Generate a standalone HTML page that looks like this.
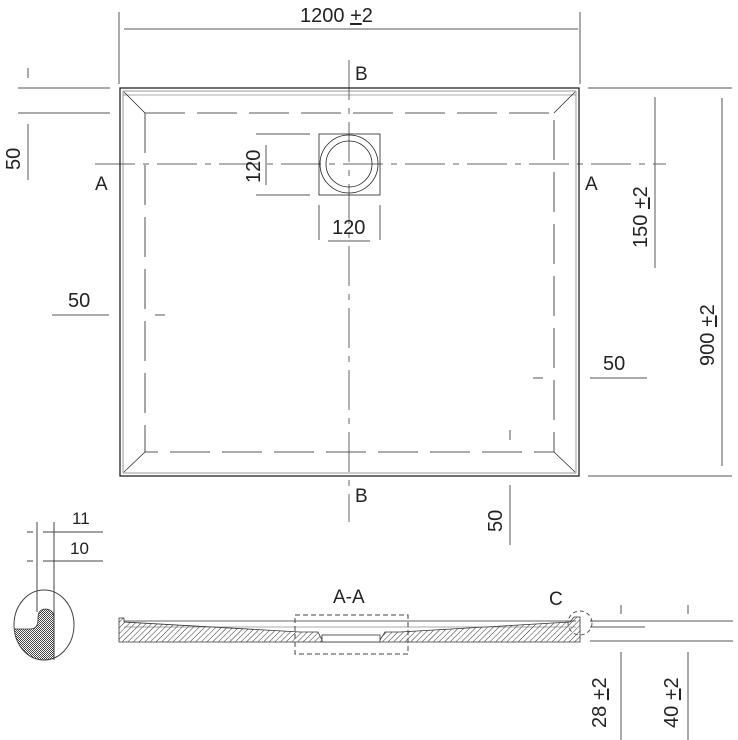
<!DOCTYPE html>
<html><head><style>
html,body{margin:0;padding:0;background:#fff;}
svg{display:block;}
text{font-family:"Liberation Sans",sans-serif;fill:#222;}
</style></head><body>
<svg width="738" height="740" viewBox="0 0 738 740" xmlns="http://www.w3.org/2000/svg">
<defs>
<pattern id="h" width="4" height="4" patternUnits="userSpaceOnUse" patternTransform="rotate(45)">
<line x1="0" y1="0" x2="0" y2="4" stroke="#333" stroke-width="1"/>
</pattern>
<pattern id="g" width="2" height="2" patternUnits="userSpaceOnUse">
<rect width="1" height="1" fill="#444"/><rect x="1" y="1" width="1" height="1" fill="#444"/>
</pattern>
<clipPath id="ec"><ellipse cx="44" cy="625" rx="30" ry="35"/></clipPath>
</defs>
<g stroke="#555" stroke-width="1" fill="none">
<line x1="119" y1="12" x2="119" y2="84"/>
<line x1="580" y1="12" x2="580" y2="84"/>
<line x1="124" y1="29" x2="578" y2="29"/>
<line x1="18" y1="88" x2="110" y2="88"/>
<line x1="18" y1="113" x2="110" y2="113"/>
<line x1="28" y1="68" x2="28" y2="78"/>
<line x1="28" y1="124" x2="28" y2="180"/>
<line x1="52" y1="315" x2="109" y2="315"/>
<line x1="155" y1="315" x2="165" y2="315"/>
<line x1="588" y1="88" x2="732" y2="88"/>
<line x1="588" y1="476" x2="732" y2="476"/>
<line x1="722" y1="98" x2="722" y2="466"/>
<line x1="655" y1="97" x2="655" y2="268"/>
<line x1="590" y1="378" x2="647" y2="378"/>
<line x1="533" y1="378" x2="543" y2="378"/>
<line x1="510" y1="485" x2="510" y2="545"/>
<line x1="510" y1="430" x2="510" y2="440"/>
<line x1="256" y1="134" x2="310" y2="134"/>
<line x1="256" y1="195" x2="310" y2="195"/>
<line x1="266" y1="145" x2="266" y2="185"/>
<line x1="319" y1="205" x2="319" y2="240"/>
<line x1="380" y1="205" x2="380" y2="240"/>
<line x1="328" y1="241" x2="370" y2="241"/>
</g>
<g stroke="#666" stroke-width="1" fill="none" stroke-dasharray="40,8,6,8">
<line x1="349" y1="60" x2="349" y2="522"/>
<line x1="95" y1="164" x2="666" y2="164"/>
</g>
<g stroke="#222" fill="none">
<rect x="120" y="88" width="459" height="388" stroke-width="1.3"/>
<rect x="123" y="91" width="453" height="382" stroke-width="0.6" stroke="#555"/>
<line x1="123" y1="95" x2="576" y2="95" stroke-width="0.6" stroke="#555"/>
<line x1="124" y1="92" x2="145" y2="113" stroke-width="0.7"/>
<line x1="575" y1="92" x2="554" y2="113" stroke-width="0.7"/>
<line x1="124" y1="472" x2="145" y2="452" stroke-width="0.7"/>
<line x1="575" y1="472" x2="554" y2="452" stroke-width="0.7"/>
<rect x="145" y="113" width="409" height="339" stroke-width="0.8" stroke-dasharray="40,12"/>
<rect x="319" y="134" width="61" height="61" stroke-width="0.8"/>
<circle cx="349" cy="164" r="29" stroke-width="0.8"/>
<circle cx="349" cy="164" r="23" stroke-width="0.8"/>
</g>
<text x="300" y="22" font-size="20">1200 <tspan text-decoration="underline">+</tspan>2</text>
<text x="355" y="80" font-size="19">B</text>
<text x="355" y="502" font-size="19">B</text>
<text x="95" y="190" font-size="19">A</text>
<text x="585" y="190" font-size="19">A</text>
<text x="68" y="307" font-size="20">50</text>
<text x="603" y="370" font-size="20">50</text>
<text x="332" y="234" font-size="20">120</text>
<text transform="translate(260,183) rotate(-90)" font-size="20">120</text>
<text transform="translate(20,170) rotate(-90)" font-size="20">50</text>
<text transform="translate(502,532) rotate(-90)" font-size="20">50</text>
<text transform="translate(647,248) rotate(-90)" font-size="20">150 <tspan text-decoration="underline">+</tspan>2</text>
<text transform="translate(714,366) rotate(-90)" font-size="20">900 <tspan text-decoration="underline">+</tspan>2</text>
<!-- detail C left -->
<g stroke="#444" fill="none" stroke-width="1">
<line x1="27" y1="532" x2="33" y2="532"/>
<line x1="27" y1="561" x2="33" y2="561"/>
<line x1="43" y1="532" x2="103" y2="532"/>
<line x1="43" y1="561" x2="103" y2="561"/>
<line x1="37" y1="522" x2="37" y2="612"/>
<line x1="54" y1="522" x2="54" y2="660"/>
</g>
<path clip-path="url(#ec)" d="M0,629 L30,629 Q38,629 38,620 L38,618 Q38,609 46,609 Q54,610 54,618 L54,665 L0,665 Z" fill="url(#g)" stroke="#333" stroke-width="0.8"/>
<ellipse cx="44" cy="625" rx="30" ry="35" fill="none" stroke="#444"/>
<text x="72" y="524" font-size="17">11</text>
<text x="70" y="554" font-size="17">10</text>
<!-- section A-A -->
<path d="M119,624 L119,618 L124,618 L124,622 L300,632 L318,632 L322,640 L380,640 L385,632 L400,632 L570,622 L574,617 L580,617 L580,642 L119,642 Z" fill="url(#h)" stroke="#333" stroke-width="0.8"/>
<line x1="124" y1="621" x2="576" y2="621" stroke="#333" stroke-width="0.8"/>
<line x1="124" y1="627" x2="576" y2="627" stroke="#555" stroke-width="0.6"/>
<rect x="322" y="635" width="58" height="7" fill="#fff" stroke="#333" stroke-width="0.8"/>
<rect x="295" y="615" width="113" height="39" fill="none" stroke="#444" stroke-dasharray="5,3"/>
<text x="333" y="603" font-size="19">A-A</text>
<text x="549" y="605" font-size="19">C</text>
<circle cx="580" cy="623" r="12" fill="none" stroke="#555" stroke-dasharray="4,3"/>
<g stroke="#555" stroke-width="1">
<line x1="590" y1="621" x2="733" y2="621"/>
<line x1="590" y1="627" x2="645" y2="627"/>
<line x1="590" y1="641" x2="733" y2="641"/>
<line x1="621" y1="605" x2="621" y2="614"/>
<line x1="688" y1="605" x2="688" y2="614"/>
<line x1="621" y1="652" x2="621" y2="740"/>
<line x1="688" y1="652" x2="688" y2="740"/>
</g>
<text transform="translate(606,728) rotate(-90)" font-size="20">28 <tspan text-decoration="underline">+</tspan>2</text>
<text transform="translate(678,728) rotate(-90)" font-size="20">40 <tspan text-decoration="underline">+</tspan>2</text>
</svg>
</body></html>
